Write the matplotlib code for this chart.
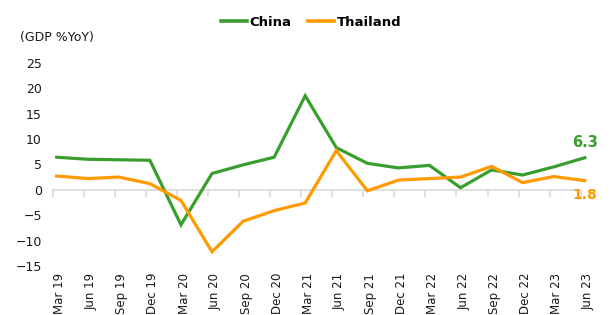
import matplotlib

matplotlib.use("Agg")
import matplotlib.pyplot as plt
import matplotlib.transforms as mtransforms

GREEN = "#3a9e2f"
ORANGE = "#ff9a00"
AXIS = "#d9d9d9"
INK = "#1a1a1a"

quarters = ["Mar 19", "Jun 19", "Sep 19", "Dec 19", "Mar 20", "Jun 20", "Sep 20",
            "Dec 20", "Mar 21", "Jun 21", "Sep 21", "Dec 21", "Mar 22", "Jun 22",
            "Sep 22", "Dec 22", "Mar 23", "Jun 23"]
china = [6.4, 6.0, 5.9, 5.8, -6.9, 3.2, 4.9, 6.4, 18.5, 8.3, 5.2, 4.3, 4.8, 0.4,
         3.9, 2.9, 4.5, 6.3]
thailand = [2.7, 2.2, 2.5, 1.2, -2.1, -12.2, -6.2, -4.1, -2.6, 7.7, -0.2, 1.9, 2.2,
            2.5, 4.6, 1.4, 2.6, 1.8]
yticks = [25, 20, 15, 10, 5, 0, -5, -10, -15]

plt.rcParams["font.family"] = "DejaVu Sans"
fig = plt.figure(figsize=(6.13, 3.15), dpi=100, facecolor="white")
# axes placed in pixels: x 48..600, y 62.7..266 (top..bottom)
W, H = 613, 315
ax = fig.add_axes([48 / W, (H - 266) / H, (600 - 48) / W, (266 - 62.7) / H])

x = list(range(len(quarters)))
ax.plot(x, china, color=GREEN, linewidth=2.3, label="China", solid_joinstyle="miter", zorder=3)
ax.plot(x, thailand, color=ORANGE, linewidth=2.3, label="Thailand", solid_joinstyle="miter", zorder=3)

ax.set_xlim(-0.28, 17.49)
ax.set_ylim(-15, 25)

# y axis: labels only
ax.set_yticks(yticks)
ax.tick_params(axis="y", length=0, pad=4.5, labelsize=9, labelcolor=INK)
for s in ("top", "right", "left"):
    ax.spines[s].set_visible(False)

# x axis line sits on zero, tick marks just left of each point
ax.spines["bottom"].set_position(("data", 0))
ax.spines["bottom"].set_color(AXIS)
ax.spines["bottom"].set_linewidth(1.2)
off = 0.13
ax.spines["bottom"].set_bounds(-off, len(quarters) - 1 - off)
ax.set_xticks([i - off for i in x])
ax.set_xticklabels([])
ax.tick_params(axis="x", direction="out", length=5, width=1.2, color=AXIS)

trans = mtransforms.blended_transform_factory(ax.transData, ax.transAxes)
for i, q in zip(x, quarters):
    ax.text(i + 0.1, -0.034, q, transform=trans, rotation=90, ha="center", va="top",
            fontsize=8.5, color=INK)

fig.text(20 / W, 1 - 38 / H, "(GDP %YoY)", ha="left", va="center", fontsize=9, color=INK)

# end labels
ax.annotate(f"{china[-1]:.1f}", xy=(x[-1], china[-1]), xytext=(0, 11),
            textcoords="offset points", ha="center", va="center",
            fontsize=10.5, fontweight="bold", color=GREEN)
ax.annotate(f"{thailand[-1]:.1f}", xy=(x[-1], thailand[-1]), xytext=(0, -10),
            textcoords="offset points", ha="center", va="center",
            fontsize=10, fontweight="bold", color=ORANGE)

leg = fig.legend(loc="center", bbox_to_anchor=(311 / W, 1 - 22 / H), ncol=2, frameon=False,
                 handlelength=2.0, handletextpad=0.2, columnspacing=1.2,
                 prop={"weight": "bold", "size": 9.5})
for t in leg.get_texts():
    t.set_color("black")
for h in leg.legend_handles:
    h.set_linewidth(2.6)

fig.savefig("out.png", dpi=100, facecolor="white")
